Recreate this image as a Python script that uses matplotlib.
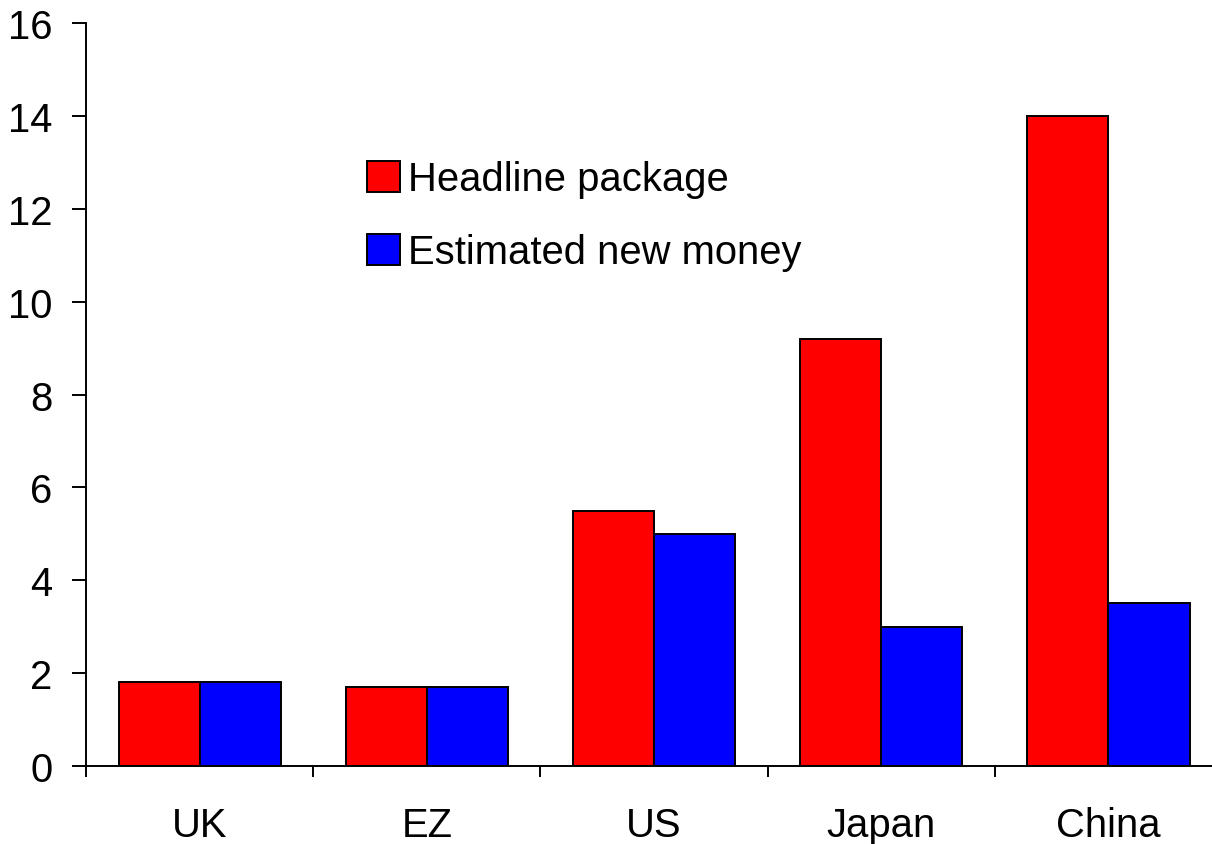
import numpy as np
import matplotlib
matplotlib.use('Agg')
import matplotlib.pyplot as plt

plt.rcParams['font.family'] = ['Liberation Sans', 'DejaVu Sans']

# 数据
countries = ['UK', 'EZ', 'US', 'Japan', 'China']
headline = [1.8, 1.7, 5.5, 9.2, 14.0]
new_money = [1.8, 1.7, 5.0, 3.0, 3.5]

fig = plt.figure(figsize=(12.12, 8.45), dpi=100)
ax = fig.add_axes([0.071, 0.0923, 0.929, 0.8793])

x = np.arange(len(countries))
w = 0.357
ax.bar(x - w / 2, headline, w, color='#ff0000', edgecolor='black',
       linewidth=1.4, label='Headline package')
ax.bar(x + w / 2, new_money, w, color='#0000ff', edgecolor='black',
       linewidth=1.4, label='Estimated new money')

ax.set_ylim(0, 16)
ax.set_xlim(-0.5, 4.456)
ax.set_yticks(range(0, 17, 2))

# 分类边界刻度 + 中心标签
ax.set_xticks(np.arange(-0.5, 4.0, 1.0))
ax.set_xticklabels([])
ax.set_xticks(x, minor=True)
ax.set_xticklabels(countries, minor=True)
ax.tick_params(axis='x', which='major', direction='out', length=8, width=1.4)
ax.tick_params(axis='x', which='minor', length=0, pad=28.5, labelsize=28.8)
ax.tick_params(axis='y', direction='out', length=10, width=1.4, pad=14,
               labelsize=28.8)

for s in ['top', 'right']:
    ax.spines[s].set_visible(False)
for s in ['left', 'bottom']:
    ax.spines[s].set_linewidth(1.4)

ax.legend(loc='upper left', bbox_to_anchor=(367 / 1212, 1 - 161 / 845),
          bbox_transform=fig.transFigure, frameon=False, fontsize=28.8,
          handlelength=0.825, handleheight=0.825, handletextpad=0.2,
          labelspacing=0.875, borderpad=0, borderaxespad=0)

plt.savefig('out.png', dpi=100, facecolor='white')
